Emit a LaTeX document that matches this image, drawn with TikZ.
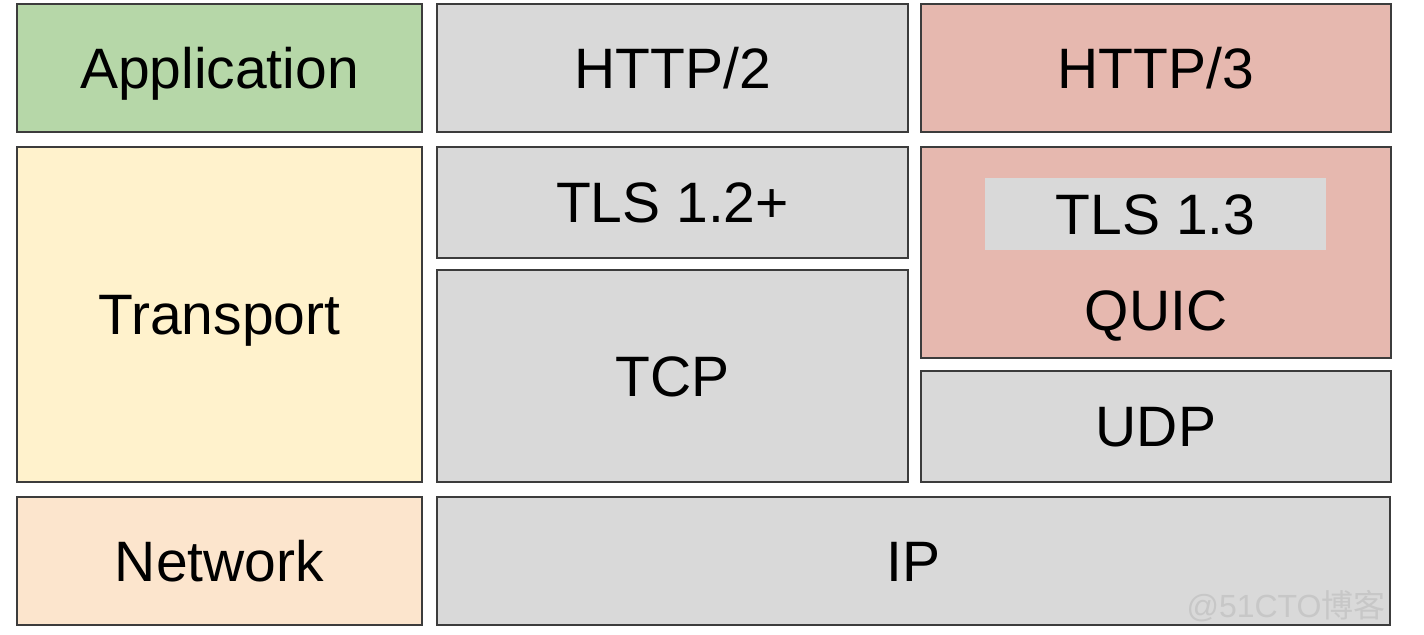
\documentclass[tikz,border=0pt]{standalone}
\usepackage{fontspec}
\setmainfont{Liberation Sans}
\newfontfamily\cjkfont{Noto Sans CJK SC}
\usetikzlibrary{positioning}

\definecolor{appgreen}{HTML}{B6D7A8}
\definecolor{transyellow}{HTML}{FFF2CC}
\definecolor{netpeach}{HTML}{FCE5CD}
\definecolor{protogray}{HTML}{D9D9D9}
\definecolor{quicred}{HTML}{E6B8AF}
\definecolor{edgegray}{HTML}{3C3C3C}

\begin{document}
\begin{tikzpicture}[
    x=0.5pt, y=-0.5pt,
    layerbox/.style={
        rectangle,
        draw=edgegray,
        line width=1pt,
        inner sep=0pt,
        font=\fontsize{28.5}{34}\selectfont,
        text height=20.4pt,
        text depth=0pt
    },
    lbl/.style={
        inner sep=0pt,
        font=\fontsize{28.5}{34}\selectfont,
        text height=20.4pt,
        text depth=0pt
    }
]
\useasboundingbox[fill=white] (0,0) rectangle (1424,634);

% Left column: layer names
\node[layerbox, fill=appgreen, minimum width=202.5pt, minimum height=64pt] (application) at (219.5,68) {Application};
\node[layerbox, fill=transyellow, minimum width=202.5pt, minimum height=167.5pt] (transport) at (219.5,314.5) {Transport};
\node[layerbox, fill=netpeach, minimum width=202.5pt, minimum height=64pt] (network) at (219.5,561) {Network};

% Middle column: HTTP/2 stack
\node[layerbox, fill=protogray, minimum width=235.5pt, minimum height=64pt] (http2) at (672.5,68) {HTTP/2};
\node[layerbox, fill=protogray, minimum width=235.5pt, minimum height=55.5pt] (tls12) at (672.5,202.5) {TLS 1.2+};
\node[layerbox, fill=protogray, minimum width=235.5pt, minimum height=106pt] (tcp) at (672.5,376) {TCP};

% Right column: HTTP/3 stack
\node[layerbox, fill=quicred, minimum width=235pt, minimum height=64pt] (http3) at (1156,68) {HTTP/3};
\node[layerbox, fill=quicred, minimum width=235pt, minimum height=105.5pt] (quic) at (1156,252.5) {};
\node[rectangle, fill=protogray, minimum width=170.5pt, minimum height=36pt, inner sep=0pt] (tls13box) at (1155.5,214) {};
\node[lbl] (tls13) at (tls13box) {TLS 1.3};
\node[lbl] (quiclbl) at (1156,310) {QUIC};
\node[layerbox, fill=protogray, minimum width=235pt, minimum height=55.5pt] (udp) at (1156,426.5) {UDP};

% Bottom row: IP
\node[layerbox, fill=protogray, minimum width=476.5pt, minimum height=64pt] (ip) at (913.5,561) {IP};

% Watermark
\node[inner sep=0pt, text=black!22, font=\fontsize{16}{18}\selectfont, anchor=east] (wmark) at (1386,606) {@51CTO\cjkfont 博客};

\end{tikzpicture}
\end{document}
